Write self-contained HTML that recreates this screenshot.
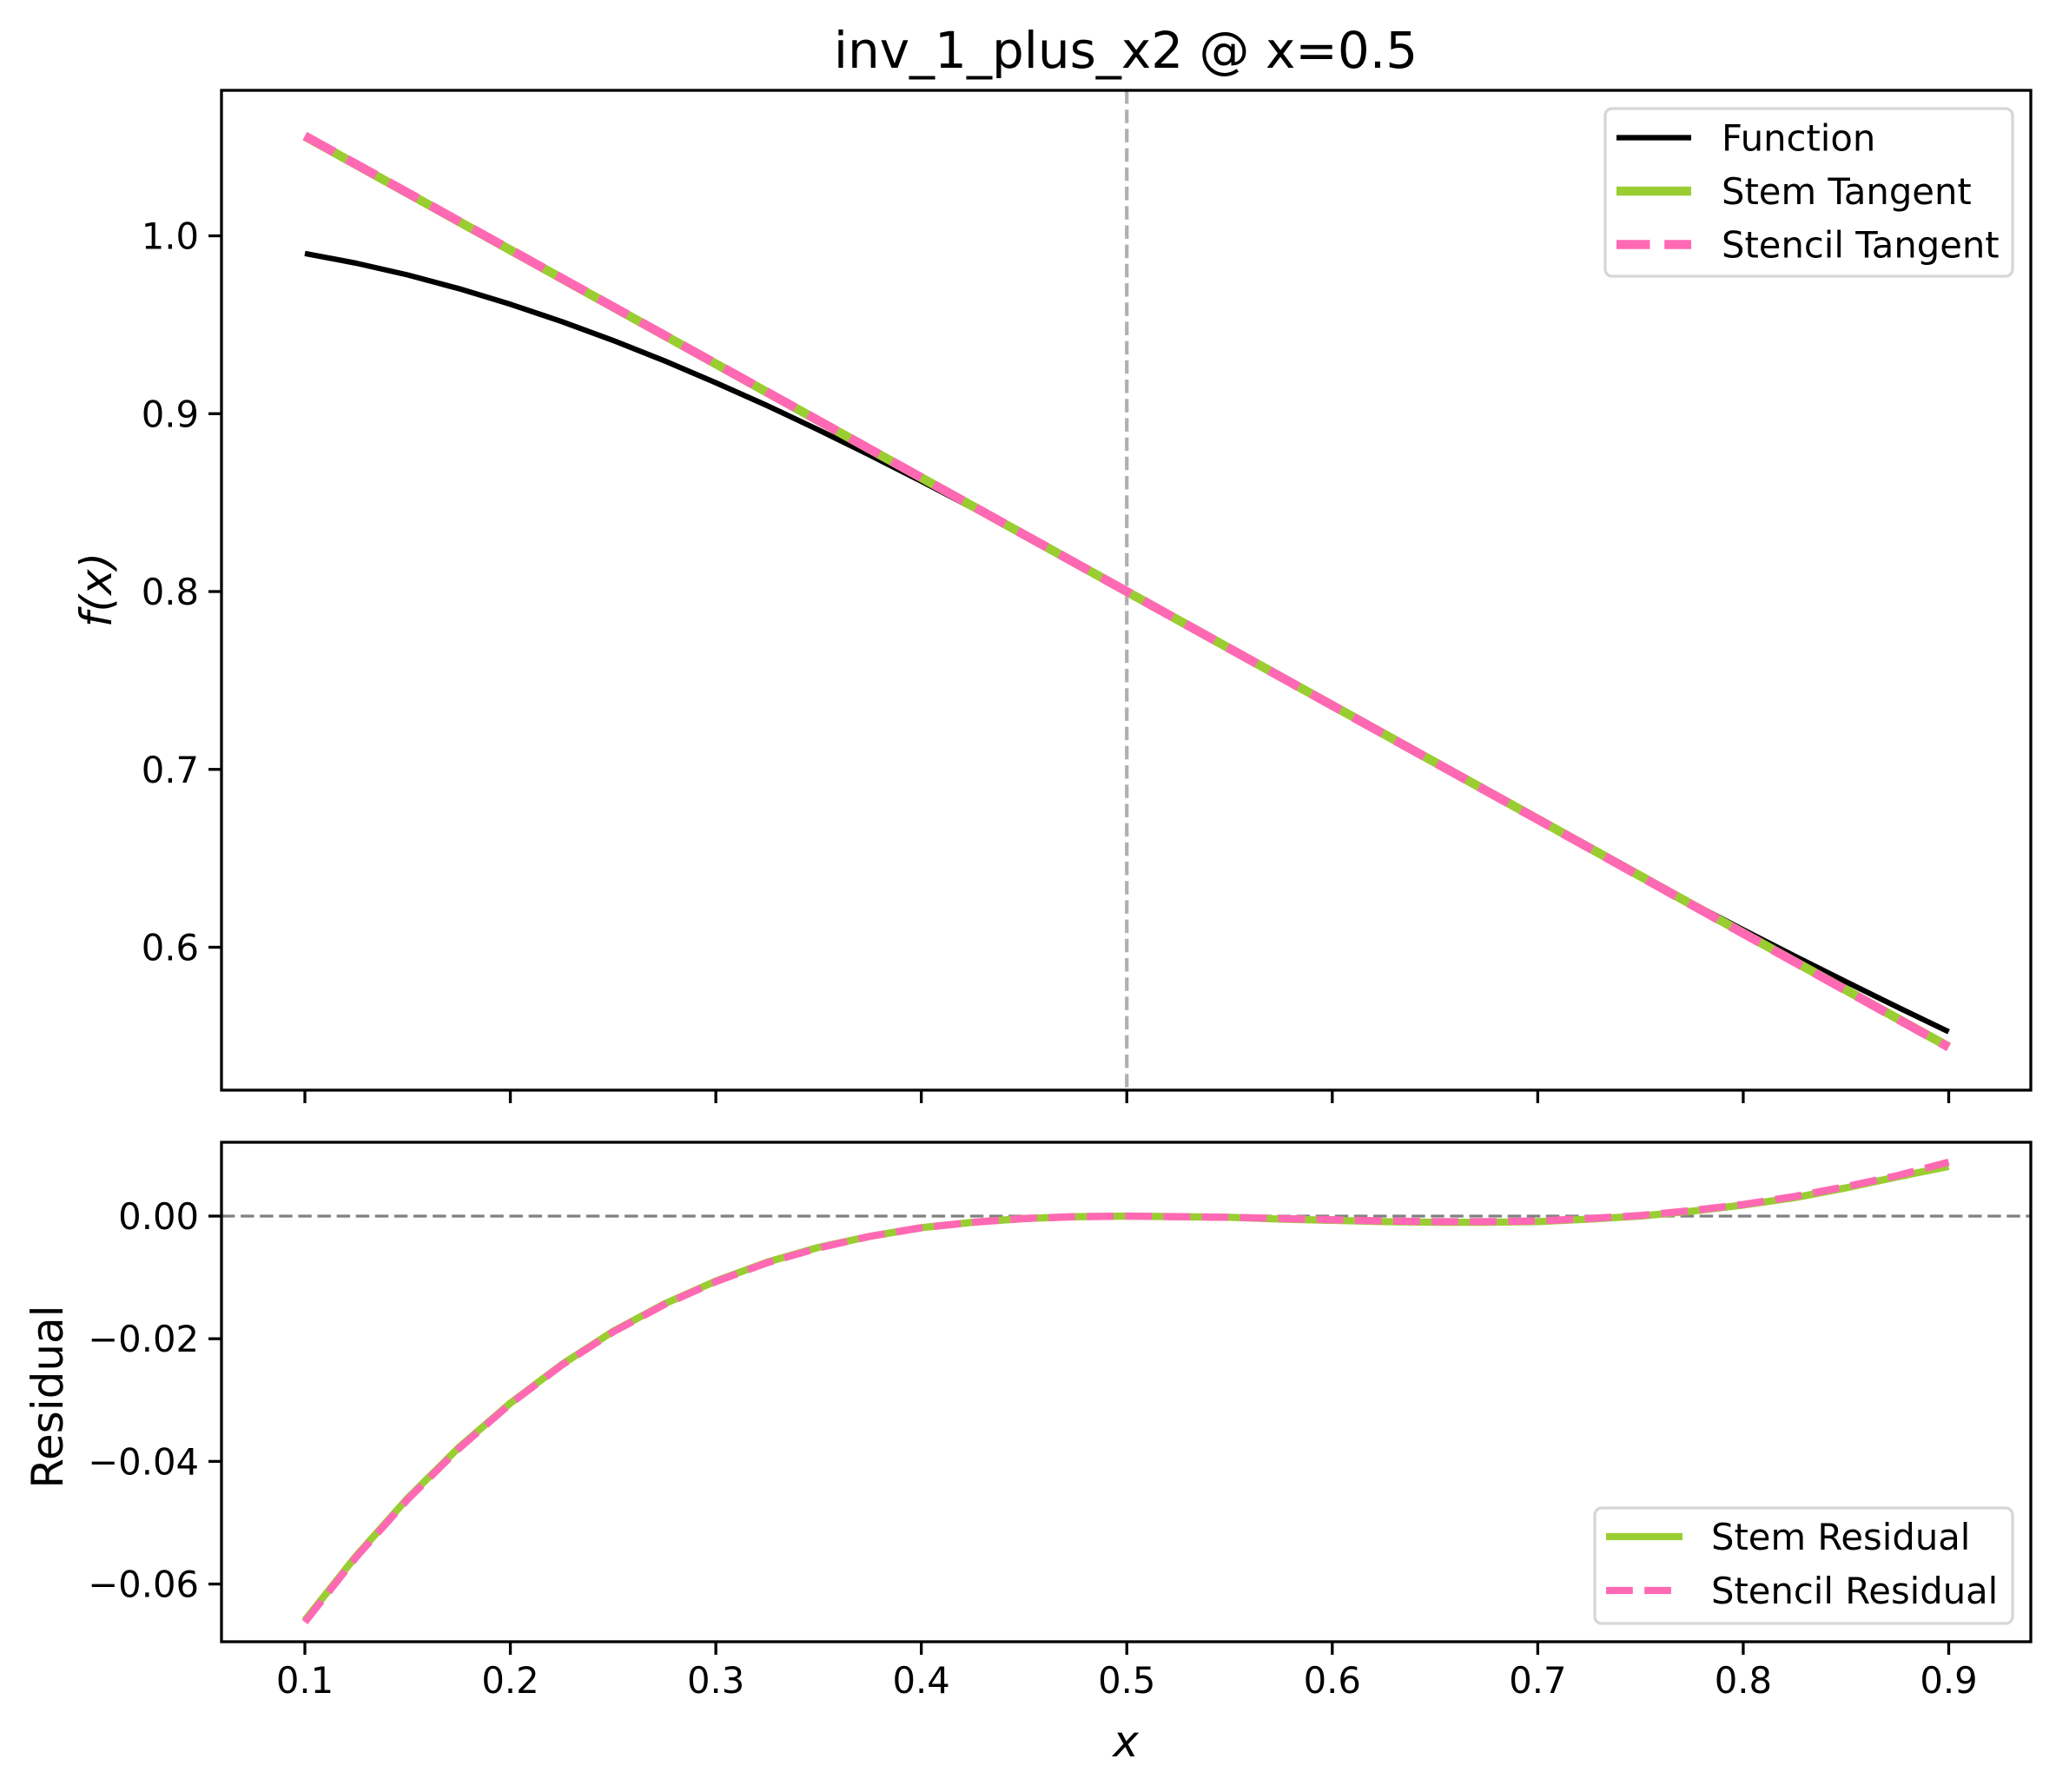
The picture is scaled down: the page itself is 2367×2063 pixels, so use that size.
<!DOCTYPE html>
<html><head><meta charset="utf-8"><style>
html,body{margin:0;padding:0;background:#fff}
svg{display:block;font-family:"DejaVu Sans","Liberation Sans",sans-serif}
</style></head><body>
<svg id="fig" width="2367" height="2063" viewBox="0 0 2367 2063" xmlns="http://www.w3.org/2000/svg">
<rect width="2367" height="2063" fill="#fff"/>
<text x="1296" y="78" font-size="58" text-anchor="middle">inv_1_plus_x2 @ x=0.5</text>
<g id="topAxes"></g><g id="botAxes"></g>
</svg>
<script>
const xs=[0.1,0.125,0.15,0.175,0.2,0.225,0.25,0.275,0.3,0.325,0.35,0.375,0.4,0.425,0.45,0.475,0.5,0.525,0.55,0.575,0.6,0.625,0.65,0.675,0.7,0.725,0.75,0.775,0.8,0.825,0.85,0.875,0.9];
const funcVals=[0.9901,0.9846,0.9780,0.9703,0.9615,0.9518,0.9412,0.9297,0.9174,0.9045,0.8909,0.8767,0.8621,0.8470,0.8316,0.8159,0.8,0.7839,0.7678,0.7515,0.7353,0.7191,0.7030,0.6870,0.6711,0.6555,0.64,0.6248,0.6098,0.5950,0.5806,0.5664,0.5525];
const tangentX=[0.1,0.9];
const stemTangent=[1.056,0.544];
const stencilTangent=[1.0562,0.5438];
const stemResidual=[-0.0659,-0.0554,-0.0460,-0.0377,-0.0305,-0.0242,-0.0188,-0.0143,-0.0106,-0.0075,-0.0051,-0.0033,-0.0019,-0.0010,-0.0004,-0.0001,0,-0.0001,-0.0002,-0.0005,-0.0007,-0.0009,-0.0010,-0.0010,-0.0009,-0.0005,0,0.0008,0.0018,0.0030,0.0046,0.0064,0.0081];
const stencilResidual=[-0.0662,-0.0556,-0.0462,-0.0379,-0.0306,-0.0243,-0.0189,-0.0144,-0.0107,-0.0076,-0.0052,-0.0033,-0.0019,-0.0010,-0.0004,-0.0001,0,-0.0001,-0.0002,-0.0004,-0.0006,-0.0008,-0.0009,-0.0009,-0.0008,-0.0004,0.0001,0.0009,0.0019,0.0032,0.0048,0.0066,0.0088];
const xTicks=[0.1,0.2,0.3,0.4,0.5,0.6,0.7,0.8,0.9];
const topYTicks=[0.6,0.7,0.8,0.9,1.0];
const botYTicks=[-0.06,-0.04,-0.02,0.00];
const vLineX=0.5;

const NS='http://www.w3.org/2000/svg';
const L=255,R=2338;
const X=v=>351+(v-0.1)*2365.6;
const YT=v=>271.5+(1.0-v)*2047.5;
const YB=v=>1400-v*7060;
function el(parent,tag,attrs,text){const e=document.createElementNS(NS,tag);for(const k in attrs)e.setAttribute(k,attrs[k]);if(text!==undefined)e.textContent=text;parent.appendChild(e);return e;}
function pts(xa,ya,fy){return xa.map((x,i)=>X(x).toFixed(1)+','+fy(ya[i]).toFixed(1)).join(' ');}
const topG=document.getElementById('topAxes'),botG=document.getElementById('botAxes');

let e;
e=el(topG,'line',{x1:X(vLineX),x2:X(vLineX),y1:104,y2:1255,stroke:'#b0b0b0','stroke-width':4.2,'stroke-dasharray':'15.5,6.7'});


e=el(topG,'polyline',{points:pts(xs,funcVals,YT),fill:'none',stroke:'#000','stroke-width':6.25,'stroke-linejoin':'round'});


e=el(topG,'polyline',{points:pts(tangentX,stemTangent,YT),fill:'none',stroke:'#9acd32','stroke-width':10.4});


e=el(topG,'polyline',{points:pts(tangentX,stencilTangent,YT),fill:'none',stroke:'#ff69b4','stroke-width':10.4,'stroke-dasharray':'38.5,16.7'});


e=el(topG,'rect',{x:L,y:104,width:R-L,height:1151,fill:'none',stroke:'#000','stroke-width':3.3});


xTicks.forEach(t=>{e=el(topG,'line',{x1:X(t),x2:X(t),y1:1255,y2:1270,stroke:'#000','stroke-width':3.3});

});
topYTicks.forEach(t=>{e=el(topG,'line',{x1:L-15,x2:L,y1:YT(t),y2:YT(t),stroke:'#000','stroke-width':3.3});


e=el(topG,'text',{x:L-26,y:YT(t)+15,'font-size':41.7,'text-anchor':'end'},t.toFixed(1));

});
e=el(topG,'text',{transform:'translate(128,679) rotate(-90)','font-size':50,'text-anchor':'middle','font-style':'italic'},'f(x)');


e=el(topG,'rect',{x:1848,y:125,width:469,height:193,rx:8,fill:'#fff','fill-opacity':0.8,stroke:'#d6d6d6','stroke-width':3.3});


[['Function','#000',6.25,''],['Stem Tangent','#9acd32',10.4,''],['Stencil Tangent','#ff69b4',10.4,'38.5,16.7']].forEach((d,i)=>{const y=158.5+i*61.5;
e=el(topG,'line',{x1:1861,x2:1947,y1:y,y2:y,stroke:d[1],'stroke-width':d[2],'stroke-dasharray':d[3]||'none'});


e=el(topG,'text',{x:1982,y:y+15,'font-size':41.7},d[0]);

});

e=el(botG,'line',{x1:L,x2:R,y1:YB(0),y2:YB(0),stroke:'#808080','stroke-width':3.3,'stroke-dasharray':'15.4,6.7'});


e=el(botG,'polyline',{points:pts(xs,stemResidual,YB),fill:'none',stroke:'#9acd32','stroke-width':8.3,'stroke-linejoin':'round'});


e=el(botG,'polyline',{points:pts(xs,stencilResidual,YB),fill:'none',stroke:'#ff69b4','stroke-width':8.3,'stroke-dasharray':'30.8,13.3','stroke-linejoin':'round'});


e=el(botG,'rect',{x:L,y:1315,width:R-L,height:575,fill:'none',stroke:'#000','stroke-width':3.3});


xTicks.forEach(t=>{e=el(botG,'line',{x1:X(t),x2:X(t),y1:1890,y2:1905,stroke:'#000','stroke-width':3.3});


e=el(botG,'text',{x:X(t),y:1949,'font-size':41.7,'text-anchor':'middle'},t.toFixed(1));

});
botYTicks.forEach(t=>{e=el(botG,'line',{x1:L-15,x2:L,y1:YB(t),y2:YB(t),stroke:'#000','stroke-width':3.3});


e=el(botG,'text',{x:L-26,y:YB(t)+15,'font-size':41.7,'text-anchor':'end'},(t<0?'\u2212':'')+Math.abs(t).toFixed(2));

});
e=el(botG,'text',{transform:'translate(72,1608) rotate(-90)','font-size':50,'text-anchor':'middle'},'Residual');


e=el(botG,'text',{x:1296,y:2022,'font-size':50,'text-anchor':'middle','font-style':'italic'},'x');


e=el(botG,'rect',{x:1836,y:1736,width:481,height:133,rx:8,fill:'#fff','fill-opacity':0.8,stroke:'#d6d6d6','stroke-width':3.3});


[['Stem Residual','#9acd32',''],['Stencil Residual','#ff69b4','30.8,13.3']].forEach((d,i)=>{const y=1769+i*62;
e=el(botG,'line',{x1:1849,x2:1937,y1:y,y2:y,stroke:d[1],'stroke-width':8.3,'stroke-dasharray':d[2]||'none'});


e=el(botG,'text',{x:1970,y:y+15,'font-size':41.7},d[0]);

});
</script>
</body></html>
